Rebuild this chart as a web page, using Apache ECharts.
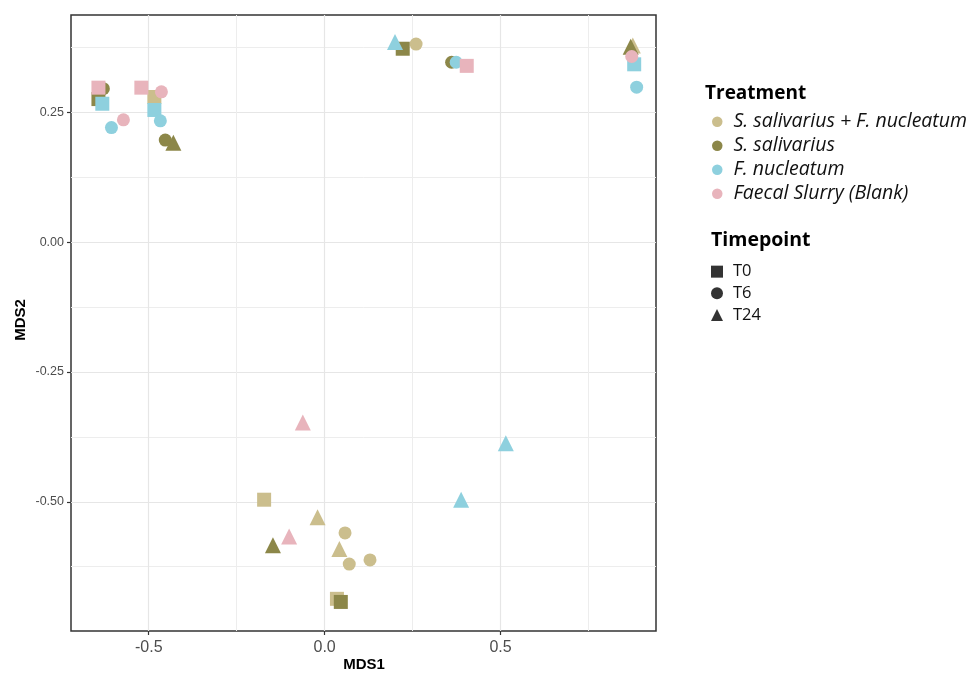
<!DOCTYPE html>
<html>
<head>
<meta charset="utf-8">
<script src="https://cdn.jsdelivr.net/npm/echarts@6/dist/echarts.min.js"></script>
<style>
html,body{margin:0;padding:0;background:#fff;}
#chart{width:967px;height:675px;}
</style>
</head>
<body>
<div id="chart"></div>
<script>
// ---- Data ----
const treatments = ['S. salivarius + F. nucleatum', 'S. salivarius', 'F. nucleatum', 'Faecal Slurry (Blank)'];
const timepoints = ['T0', 'T6', 'T24'];
const treatmentColors = ['#CBBE8D', '#8C8749', '#8ED0DE', '#E8B4BC'];

// S. salivarius + F. nucleatum
const ssfnX = [-0.484, -0.172, 0.035, 0.260, 0.058, 0.070, 0.129, 0.876, -0.020, 0.042];
const ssfnY = [0.280, -0.496, -0.687, 0.382, -0.560, -0.620, -0.612, 0.379, -0.530, -0.591];
const ssfnT = ['T0', 'T0', 'T0', 'T6', 'T6', 'T6', 'T6', 'T24', 'T24', 'T24'];
// S. salivarius
const ssX = [-0.643, 0.222, 0.046, -0.629, -0.453, 0.361, -0.430, 0.870, -0.147];
const ssY = [0.276, 0.373, -0.693, 0.296, 0.197, 0.347, 0.192, 0.377, -0.584];
const ssT = ['T0', 'T0', 'T0', 'T6', 'T6', 'T6', 'T24', 'T24', 'T24'];
// F. nucleatum
const fnX = [-0.632, -0.484, 0.880, -0.467, -0.606, 0.374, 0.887, 0.200, 0.515, 0.388];
const fnY = [0.267, 0.255, 0.343, 0.234, 0.221, 0.347, 0.299, 0.386, -0.387, -0.496];
const fnT = ['T0', 'T0', 'T0', 'T6', 'T6', 'T6', 'T6', 'T24', 'T24', 'T24'];
// Faecal Slurry (Blank)
const fsX = [-0.643, -0.521, 0.404, -0.464, -0.572, 0.873, -0.062, -0.101];
const fsY = [0.298, 0.298, 0.340, 0.290, 0.236, 0.358, -0.347, -0.567];
const fsT = ['T0', 'T0', 'T0', 'T6', 'T6', 'T6', 'T24', 'T24'];

const xTicks = [-0.5, 0.0, 0.5];
const xMinorLines = [-0.25, 0.25, 0.75];
const yTicks = [-0.5, -0.25, 0.0, 0.25];
const yMinorLines = [-0.625, -0.375, -0.125, 0.125, 0.375];

// ---- Build ----
const groupsX = [ssfnX, ssX, fnX, fsX];
const groupsY = [ssfnY, ssY, fnY, fsY];
const groupsT = [ssfnT, ssT, fnT, fsT];

const symbolOf = { T0: 'rect', T6: 'circle', T24: 'triangle' };
const sizeOf = { T0: 14, T6: 13, T24: 16 };

const series = treatments.map((name, i) => ({
  name: name,
  type: 'scatter',
  xAxisIndex: 0,
  yAxisIndex: 0,
  data: groupsX[i].map((x, j) => [x, groupsY[i][j], groupsT[i][j]]),
  symbol: (v) => symbolOf[v[2]],
  symbolSize: (v) => sizeOf[v[2]],
  itemStyle: { color: treatmentColors[i], opacity: 1 },
  emphasis: { disabled: true }
}));
timepoints.forEach(t => {
  series.push({
    name: t, type: 'scatter', data: [], symbol: symbolOf[t],
    itemStyle: { color: '#000' }
  });
});

const xMin = -0.721, xMax = 0.942, yMin = -0.749, yMax = 0.438;
const axisFont = 'Liberation Sans';
const legendFont = 'Open Sans';

const option = {
  animation: false,
  backgroundColor: '#fff',
  grid: {
    left: 71, top: 15, right: 311, bottom: 44,
    show: true, borderColor: '#333333', borderWidth: 1.5, backgroundColor: '#fff'
  },
  xAxis: [{
    type: 'value', min: xMin, max: xMax, position: 'bottom',
    axisLine: { show: false, onZero: false },
    axisTick: { show: true, customValues: xTicks, length: 4, lineStyle: { color: '#333', width: 1.2 } },
    axisLabel: { customValues: xTicks, formatter: v => v.toFixed(1), color: '#4D4D4D',
      fontSize: 16, fontFamily: axisFont, margin: 9 },
    splitLine: { show: true, lineStyle: { color: '#E6E6E6', width: 1.2 } }
  }, {
    type: 'value', min: xMin, max: xMax, position: 'top',
    axisLine: { show: false, onZero: false },
    axisTick: { show: false, customValues: xMinorLines },
    axisLabel: { show: false, customValues: xMinorLines },
    splitLine: { show: true, lineStyle: { color: '#EDEDED', width: 1 } }
  }],
  yAxis: [{
    type: 'value', min: yMin, max: yMax, position: 'left',
    axisLine: { show: false, onZero: false },
    axisTick: { show: true, customValues: yTicks, length: 4, lineStyle: { color: '#333', width: 1.2 } },
    axisLabel: { customValues: yTicks, formatter: v => v.toFixed(2), color: '#4D4D4D',
      fontSize: 12.5, fontFamily: axisFont, margin: 7 },
    splitLine: { show: true, lineStyle: { color: '#E6E6E6', width: 1.2 } }
  }, {
    type: 'value', min: yMin, max: yMax, position: 'right',
    axisLine: { show: false, onZero: false },
    axisTick: { show: false, customValues: yMinorLines },
    axisLabel: { show: false, customValues: yMinorLines },
    splitLine: { show: true, lineStyle: { color: '#EDEDED', width: 1 } }
  }],
  legend: [{
    data: treatments.map(n => ({ name: n, icon: 'circle' })),
    orient: 'vertical', left: 712, top: 109.7, padding: 0,
    itemWidth: 10.5, itemHeight: 10.5, itemGap: 0,
    selectedMode: false,
    textStyle: { fontFamily: legendFont, fontStyle: 'italic', fontSize: 19.5, color: '#111',
      lineHeight: 24, padding: [0, 0, 0, 6] }
  }, {
    data: timepoints.map(n => ({ name: n, icon: symbolOf[n] })),
    orient: 'vertical', left: 711, top: 260.8, padding: 0,
    itemWidth: 12, itemHeight: 12, itemGap: 0,
    selectedMode: false,
    textStyle: { fontFamily: legendFont, fontSize: 16.5, color: '#111', lineHeight: 21.7, padding: [0, 0, 0, 5] }
  }],
  graphic: [
    { type: 'text', x: 705, y: 94, style: { text: 'Treatment', font: 'bold 19px "Open Sans"', fill: '#000', verticalAlign: 'middle' } },
    { type: 'text', x: 711, y: 240.7, style: { text: 'Timepoint', font: 'bold 19.5px "Open Sans"', fill: '#000', verticalAlign: 'middle' } },
    { type: 'text', x: 364, y: 665, style: { text: 'MDS1', font: 'bold 15px "Liberation Sans"', fill: '#000', align: 'center', verticalAlign: 'middle' } },
    { type: 'text', x: 21, y: 320, rotation: Math.PI / 2, style: { text: 'MDS2', font: 'bold 15px "Liberation Sans"', fill: '#000', align: 'center', verticalAlign: 'middle' } }
  ],
  series: series
};

const chart = echarts.init(document.getElementById('chart'), null, { renderer: 'canvas' });
chart.setOption(option);
</script>
</body>
</html>
